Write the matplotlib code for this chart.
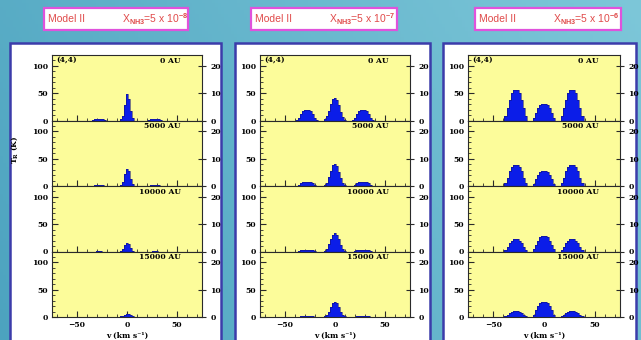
import numpy as np
import matplotlib
matplotlib.use('Agg')
import matplotlib.pyplot as plt
from matplotlib.patches import Rectangle
from matplotlib.ticker import MultipleLocator, FixedLocator

# ---------------- data ----------------
abundance_exp = ['-8', '-7', '-6']
distance_labels = ['0 AU', '5000 AU', '10000 AU', '15000 AU']
transition_label = '(4,4)'
line_centers = [-28, 0, 28]                      # km/s, satellite / main / satellite
bin_offsets = [-12, -10, -8, -6, -4, -2, 0, 2, 4, 6, 8, 10, 12]   # km/s, channel centres

# X = 5e-8
main_c1 = [
    [0, 0, 0, 2, 8, 28, 48, 40, 18, 4, 0, 0, 0],
    [0, 0, 0, 2, 8, 22, 31, 27, 12, 3, 0, 0, 0],
    [0, 0, 0, 1, 4, 11, 16, 13, 6, 1, 0, 0, 0],
    [0, 0, 0, 1, 2, 4, 6, 5, 3, 1, 0, 0, 0],
]
sat_c1 = [
    [0, 0, 0, 1, 2, 2, 2, 2, 2, 1, 0, 0, 0],
    [0, 0, 0, 0, 1, 1, 1, 1, 1, 0, 0, 0, 0],
    [0, 0, 0, 0, 0, 1, 1, 1, 0, 0, 0, 0, 0],
    [0, 0, 0, 0, 0, 0, 0, 0, 0, 0, 0, 0, 0],
]
# X = 5e-7
main_c2 = [
    [0, 2, 8, 18, 30, 40, 42, 38, 28, 16, 6, 1, 0],
    [0, 1, 6, 16, 28, 38, 40, 36, 26, 14, 5, 1, 0],
    [0, 1, 5, 13, 23, 31, 33, 30, 22, 11, 4, 1, 0],
    [0, 1, 4, 10, 18, 25, 27, 25, 18, 9, 3, 1, 0],
]
sat_c2 = [
    [0, 1, 5, 12, 17, 19, 19, 19, 17, 12, 5, 1, 0],
    [0, 0, 2, 5, 7, 8, 8, 8, 7, 5, 2, 0, 0],
    [0, 0, 1, 2, 3, 3, 3, 3, 3, 2, 1, 0, 0],
    [0, 0, 0, 1, 1, 1, 1, 1, 1, 1, 0, 0, 0],
]
# X = 5e-6
main_c3 = [
    [0, 5, 14, 22, 28, 30, 30, 30, 28, 22, 14, 5, 0],
    [0, 4, 12, 20, 26, 28, 28, 28, 26, 20, 12, 4, 0],
    [0, 4, 12, 20, 26, 28, 28, 28, 26, 20, 12, 4, 0],
    [0, 4, 12, 20, 25, 27, 27, 27, 25, 20, 12, 4, 0],
]
sat_c3 = [
    [0, 8, 22, 38, 50, 56, 56, 56, 50, 38, 22, 8, 0],
    [0, 5, 15, 27, 35, 38, 38, 38, 35, 27, 15, 5, 0],
    [0, 3, 9, 15, 20, 22, 22, 22, 20, 15, 9, 3, 0],
    [0, 1, 4, 7, 10, 11, 11, 11, 10, 7, 4, 1, 0],
]
main_all = [main_c1, main_c2, main_c3]
sat_all = [sat_c1, sat_c2, sat_c3]

# ---------------- style ----------------
plt.rcParams['font.family'] = ['DejaVu Serif']
plt.rcParams['font.weight'] = 'bold'
plt.rcParams['mathtext.fontset'] = 'custom'
plt.rcParams['mathtext.rm'] = 'Liberation Sans'
plt.rcParams['mathtext.it'] = 'Liberation Sans:italic'

W, H = 641, 340
fig = plt.figure(figsize=(W / 100, H / 100), dpi=100)


def fx(x):
    return x / W


def fy(y):
    return 1 - y / H


# background gradient
bg = fig.add_axes([0, 0, 1, 1], zorder=-10)
gx = np.linspace(0, 1, 200)[None, :]
gy = np.linspace(0, 1, 100)[:, None]
t = np.clip(0.75 * gx + 0.25 * (1 - gy), 0, 1)
c0 = np.array([0.30, 0.64, 0.75])
c1 = np.array([0.49, 0.78, 0.85])
img = c0[None, None, :] * (1 - t[..., None]) + c1[None, None, :] * t[..., None]
bg.imshow(img, extent=[0, 1, 0, 1], aspect='auto', origin='upper')
bg.axis('off')

# header boxes
box_x = [(44, 188), (251, 397), (475, 621)]
for (x0, x1), ex in zip(box_x, abundance_exp):
    fig.add_artist(Rectangle((fx(x0), fy(30)), (x1 - x0) / W, 22 / H, transform=fig.transFigure,
                             fc='white', ec='#e052dc', lw=1.6, zorder=1))
    fig.text(fx(x0 + 4), fy(19.5), 'Model II', color='#e04a4a', fontsize=7.5, va='center', ha='left',
             family=['Liberation Sans Narrow', 'Liberation Sans'], weight='normal', zorder=3)
    fig.text(fx(x0 + 78), fy(19.5), r'X$_{\mathrm{NH3}}$=5 x 10$^{' + ex + '}$', color='#e04a4a',
             fontsize=7.5, va='center', ha='left', family=['Liberation Sans Narrow', 'Liberation Sans'],
             weight='normal', math_fontfamily='custom', zorder=3)

# white panels
panel_x = [(10, 221), (235, 430), (443, 636)]
for x0, x1 in panel_x:
    fig.add_artist(Rectangle((fx(x0), fy(346)), (x1 - x0) / W, 303 / H, transform=fig.transFigure,
                             fc='white', ec='#3c3caa', lw=1.8, zorder=1))

cols_px = [(52, 202), (260, 410), (468, 620)]
top = 55
row_h = 65.5
fill_c = '#0b1de8'
edge_c = '#14147a'
edges_off = np.array(bin_offsets, dtype=float)
edges_off = np.concatenate([edges_off - 1, [edges_off[-1] + 1]])

for c, (L, R) in enumerate(cols_px):
    for r in range(4):
        ax = fig.add_axes([fx(L), fy(top + (r + 1) * row_h), (R - L) / W, row_h / H], zorder=2)
        ax.set_facecolor('#fcfc9a')
        ax.set_xlim(-75, 75)
        ax.set_ylim(0, 120)
        profiles = [sat_all[c][r], main_all[c][r], sat_all[c][r]]
        for vc, prof in zip(line_centers, profiles):
            e = edges_off + vc
            ax.stairs(prof, e, fill=True, color=fill_c, lw=0, zorder=2)
            ax.stairs(prof, e, color=edge_c, lw=0.4, zorder=3)
        for s in ax.spines.values():
            s.set_color('#2a2a2a')
            s.set_linewidth(0.8)
        ax.xaxis.set_major_locator(MultipleLocator(50))
        ax.xaxis.set_minor_locator(MultipleLocator(10))
        ax.yaxis.set_major_locator(FixedLocator([0, 50, 100]))
        ax.yaxis.set_minor_locator(MultipleLocator(10))
        ax.tick_params(which='both', direction='in', right=False, top=False, labelsize=5.5, pad=3,
                       color='#2a2a2a')
        ax.tick_params(which='major', length=4)
        ax.tick_params(which='minor', length=2)
        if r < 3:
            ax.tick_params(labelbottom=False)
        sec = ax.secondary_yaxis('right', functions=(lambda y: y / 5, lambda y: y * 5))
        sec.set_yticks([0, 10, 20])
        sec.tick_params(direction='inout', length=6, labelsize=5.5, pad=3, color='#2a2a2a')
        sec.spines['right'].set_visible(False)
        ax.text(0.86, 0.97, distance_labels[r], transform=ax.transAxes, ha='right', va='top',
                fontsize=5.5, weight='bold', zorder=5)
        if r == 0:
            ax.text(0.03, 0.97, transition_label, transform=ax.transAxes, ha='left', va='top',
                    fontsize=5.5, weight='bold', zorder=5)
    fig.text(fx((L + R) / 2), fy(336), 'v (km s⁻¹)', ha='center', va='center', fontsize=5.5,
             weight='bold', zorder=3)

fig.text(fx(15), fy(150), r'T$_\mathbf{R}$ (K)', rotation=90, ha='center', va='center', fontsize=5.5,
         weight='bold', math_fontfamily='dejavuserif', zorder=3)

fig.savefig('out.png', dpi=100)
